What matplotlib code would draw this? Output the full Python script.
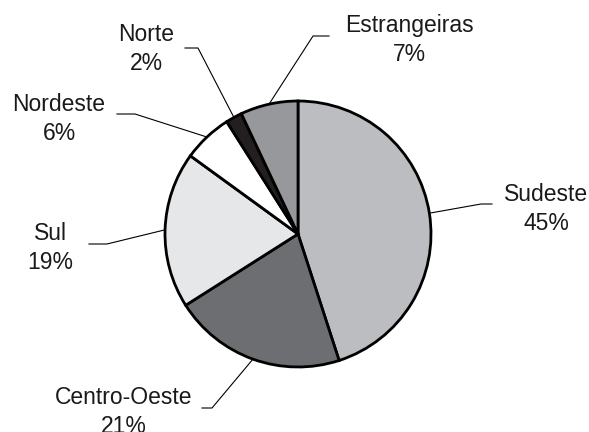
import numpy as np
import matplotlib
matplotlib.use("Agg")
import matplotlib.pyplot as plt

regions = ["Sudeste", "Centro-Oeste", "Sul", "Nordeste", "Norte", "Estrangeiras"]
shares = [45, 21, 19, 6, 2, 7]
colors = ["#bcbdc0", "#6d6e71", "#e6e7e8", "#ffffff", "#231f20", "#97989b"]

# label layout in pixel coords of the 589x432 image (y down):
# text centre x, first baseline, leader elbow (joins diagonal), other end of horizontal tick
label_pos = {
    "Sudeste":      (546, 201, (481, 204), (492, 204)),
    "Centro-Oeste": (124, 404, (212, 408), (202, 408)),
    "Sul":          (50, 240, (107, 244), (89, 244)),
    "Nordeste":     (59, 111, (135, 114), (117, 114)),
    "Norte":        (146, 41, (198, 48), (185, 48)),
    "Estrangeiras": (409, 32, (313, 36), (329, 36)),
}

W, H = 589, 432
cx, cy, R = 298, 234, 133

fig = plt.figure(figsize=(W / 100, H / 100), dpi=100)
ax = fig.add_axes([0, 0, 1, 1])

wedges, _ = ax.pie(shares, colors=colors, startangle=90, counterclock=False,
                   center=(cx, H - cy), radius=R,
                   wedgeprops=dict(edgecolor="black", linewidth=2))

font = dict(family="Liberation Sans", fontsize=16.5, color="#1a1a1a")

for w, name, val in zip(wedges, regions, shares):
    tx, ty, elbow, tick = label_pos[name]
    ang = np.deg2rad((w.theta1 + w.theta2) / 2)
    ex = cx + R * np.cos(ang)
    ey = (H - cy) + R * np.sin(ang)
    ax.plot([ex, elbow[0], tick[0]], [ey, H - elbow[1], H - tick[1]],
            color="black", lw=0.8, zorder=0)
    ax.text(tx, H - ty, name, ha="center", va="baseline", **font)
    ax.text(tx, H - ty - 29, f"{val}%", ha="center", va="baseline", **font)

ax.set_xlim(0, W)
ax.set_ylim(0, H)
ax.set_aspect("equal")
ax.axis("off")

fig.savefig("out.png", dpi=100)
